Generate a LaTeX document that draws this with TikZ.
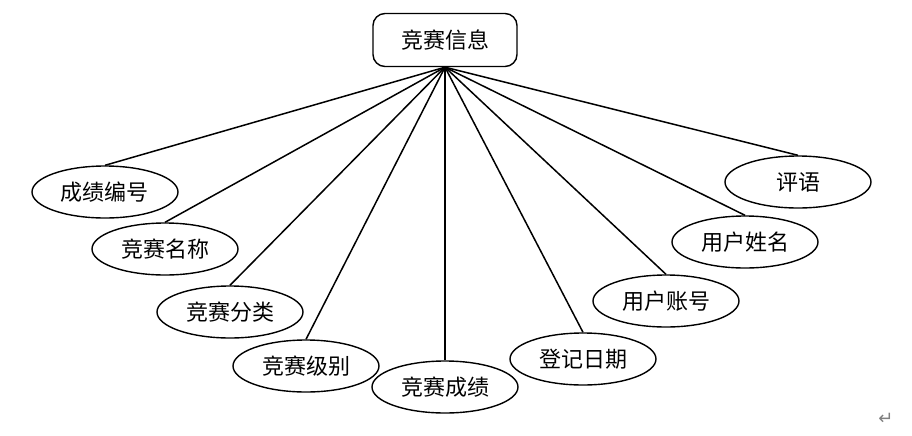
\documentclass[tikz,border=0pt]{standalone}
\usepackage{fontspec}
\newfontfamily\cjk{Noto Sans CJK SC}
\newfontfamily\symfont{DejaVu Sans}
\usetikzlibrary{shapes.geometric}
\begin{document}
\begin{tikzpicture}[x=0.5pt, y=-0.5pt,
  entity/.style={draw, line width=0.7pt, rounded corners=6pt,
    minimum width=72pt, minimum height=26.5pt, inner sep=0pt,
    font=\cjk\fontsize{11}{13}\selectfont},
  attr/.style={draw, ellipse, line width=0.7pt,
    minimum width=73pt, minimum height=26pt, inner sep=0pt,
    font=\cjk\fontsize{11}{13}\selectfont},
  link/.style={line width=0.75pt}]

\useasboundingbox (0,0) rectangle (912,435);

\node[entity] (info) at (445,40) {竞赛信息};

\node[attr] (cjbh) at (105,192) {成绩编号};
\node[attr] (jsmc) at (165,249) {竞赛名称};
\node[attr] (jsfl) at (230,312) {竞赛分类};
\node[attr] (jsjb) at (306,366) {竞赛级别};
\node[attr] (jscj) at (445,387) {竞赛成绩};
\node[attr] (djrq) at (583,359) {登记日期};
\node[attr] (yhzh) at (666,301) {用户账号};
\node[attr] (yhxm) at (745,242) {用户姓名};
\node[attr] (py)   at (798,182) {评语};

\foreach \a in {cjbh,jsmc,jsfl,jsjb,jscj,djrq,yhzh,yhxm,py}
  \draw[link] (info.south) -- (\a.north);

\node[text=gray, font=\symfont\fontsize{9}{10}\selectfont] (ret) at (886,419) {↵};

\end{tikzpicture}
\end{document}
